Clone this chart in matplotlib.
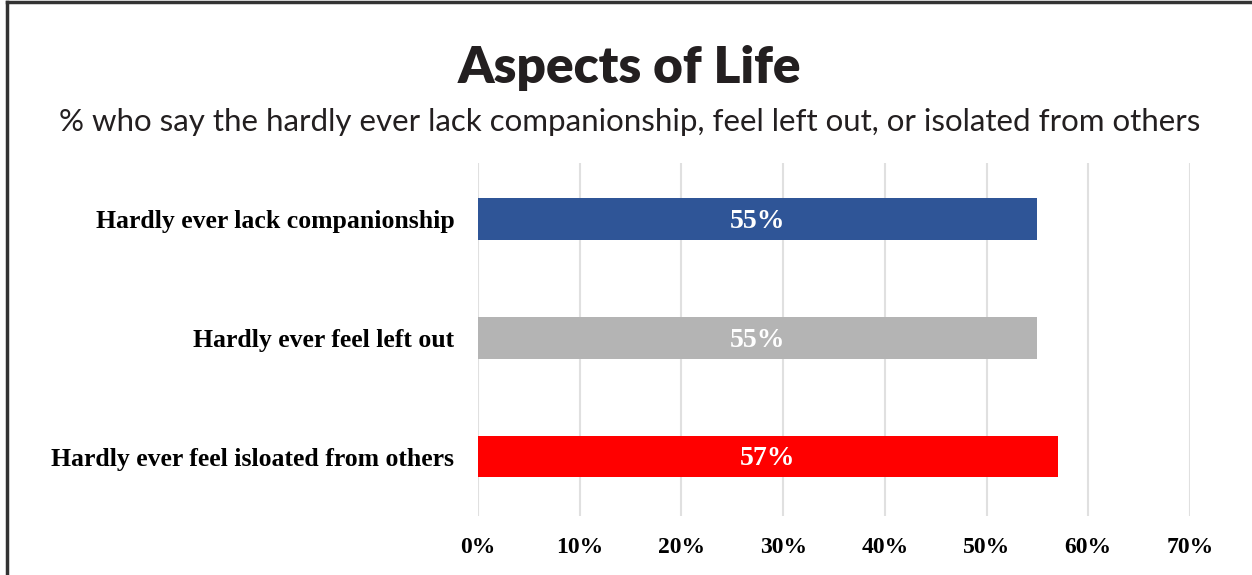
import matplotlib as mpl
mpl.use('Agg')
import matplotlib.pyplot as plt
from matplotlib.lines import Line2D
from matplotlib.ticker import FuncFormatter

# survey data
categories = ['Hardly ever lack companionship',
              'Hardly ever feel left out',
              'Hardly ever feel isloated from others']
values = [55, 55, 57]
bar_colors = ['#2F5597', '#B4B4B4', '#FF0000']
x_ticks = [0, 10, 20, 30, 40, 50, 60, 70]

fig = plt.figure(figsize=(12.52, 5.75), dpi=100)
ax = fig.add_axes([0.3818, 0.1026, 0.5687, 0.6139])

ypos = list(range(len(categories)))
ax.barh(ypos, values, height=0.35, color=bar_colors, zorder=3)
for y, v in zip(ypos, values):
    ax.text(v / 2, y + 0.02, f'{v}%', ha='center', va='center', color='white',
            fontsize=20, fontweight='bold', family='Liberation Serif', zorder=4)

ax.set_xlim(0, 70)
ax.set_ylim(2.5, -0.47)
ax.set_xticks(x_ticks)
ax.xaxis.set_major_formatter(FuncFormatter(lambda v, p: f'{v:.0f}%'))
ax.set_yticks(ypos)
ax.set_yticklabels(categories)
for lab in ax.get_xticklabels():
    lab.set_family('Liberation Serif')
    lab.set_fontweight('bold')
    lab.set_fontsize(17)
for lab in ax.get_yticklabels():
    lab.set_family('Liberation Serif')
    lab.set_fontweight('bold')
    lab.set_fontsize(18.5)
ax.tick_params(axis='x', length=0, pad=15)
ax.tick_params(axis='y', length=0, pad=17)
ax.grid(axis='x', color='#E0E0E0', linewidth=1.5, zorder=0)
for s in ax.spines.values():
    s.set_visible(False)

fig.text(0.503, 0.882, 'Aspects of Life', ha='center', va='center',
         fontsize=37, fontweight='heavy', family='Lato', color='#231F20')
fig.text(0.503, 0.787,
         '% who say the hardly ever lack companionship, feel left out, or isolated from others',
         ha='center', va='center', fontsize=22.5, fontweight='normal', family='Lato',
         color='#231F20')

# frame along the top and left edges
fig.add_artist(Line2D([0.0055, 1.0], [0.9965, 0.9965], transform=fig.transFigure,
                      color='#333333', linewidth=2.5))
fig.add_artist(Line2D([0.0055, 0.0055], [0.0, 0.9965], transform=fig.transFigure,
                      color='#333333', linewidth=2.5))

fig.savefig('out.png', dpi=100)
